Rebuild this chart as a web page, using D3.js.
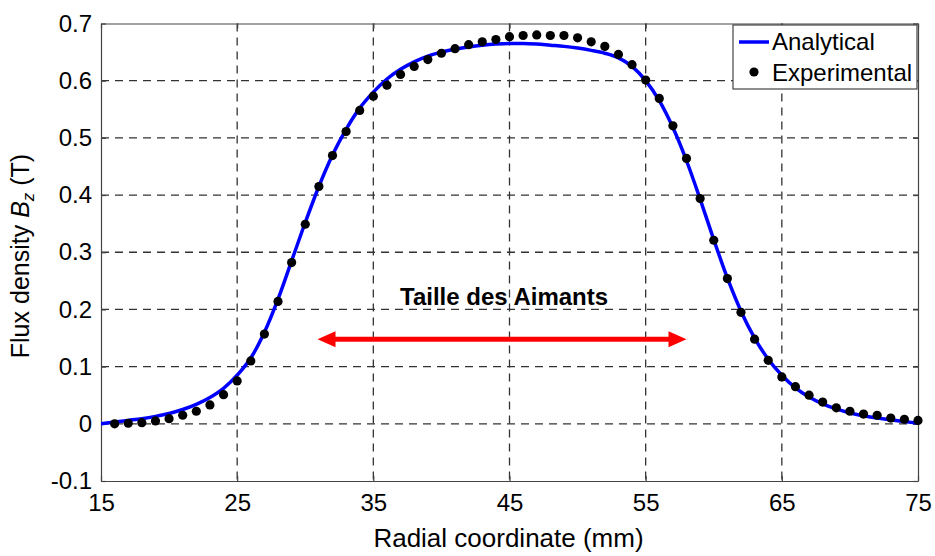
<!DOCTYPE html>
<html>
<head>
<meta charset="utf-8">
<script src="https://cdn.jsdelivr.net/npm/d3@7"></script>
<style>
  html, body { margin: 0; padding: 0; background: #fff; }
  svg { display: block; font-family: "Liberation Sans", Arial, sans-serif; }
</style>
</head>
<body>
<svg id="chart" width="935" height="556"></svg>
<script>
// Radial positions (mm) of the measured and computed flux density
const analyticalX = d3.range(15, 76, 1);
const analyticalBz = [
  0.000, 0.003, 0.006, 0.009, 0.013, 0.018, 0.025, 0.034, 0.046, 0.062,
  0.085, 0.115, 0.160, 0.218, 0.285, 0.352, 0.415, 0.470, 0.515, 0.552,
  0.580, 0.603, 0.620, 0.633, 0.643, 0.650, 0.655, 0.659, 0.662, 0.664,
  0.665, 0.665, 0.664, 0.662, 0.660, 0.657, 0.653, 0.648, 0.640, 0.625,
  0.600, 0.565, 0.518, 0.460, 0.393, 0.322, 0.255, 0.197, 0.150, 0.113,
  0.085, 0.063, 0.047, 0.035, 0.026, 0.019, 0.014, 0.010, 0.007, 0.004,
  0.001
];
const experimentalX = d3.range(16, 76, 1);
const experimentalBz = [
  0.000, 0.001, 0.002, 0.005, 0.009, 0.015, 0.022, 0.033, 0.051, 0.075,
  0.110, 0.157, 0.214, 0.282, 0.349, 0.415, 0.469, 0.511, 0.548, 0.573,
  0.592, 0.611, 0.625, 0.637, 0.648, 0.656, 0.663, 0.668, 0.672, 0.677,
  0.679, 0.680, 0.679, 0.679, 0.675, 0.668, 0.660, 0.646, 0.628, 0.601,
  0.569, 0.521, 0.464, 0.394, 0.321, 0.254, 0.195, 0.148, 0.111, 0.082,
  0.065, 0.050, 0.038, 0.028, 0.022, 0.017, 0.015, 0.010, 0.008, 0.006
];
const xTicks = [15, 25, 35, 45, 55, 65, 75];
const yTicks = [-0.1, 0, 0.1, 0.2, 0.3, 0.4, 0.5, 0.6, 0.7];
const legendLabels = ["Analytical", "Experimental"];
const magnetLabel = "Taille des Aimants";
// Extent of the magnets (mm) and height of the annotation arrow (T)
const magnetSpan = [30.9, 58.0];
const magnetArrowBz = 0.148;
const magnetLabelPos = [44.6, 0.207];

const svg = d3.select("#chart");
const plotL = 101, plotR = 918, plotT = 23.5, plotB = 481;

const x = d3.scaleLinear().domain([15, 75]).range([plotL, plotR]);
const y = d3.scaleLinear().domain([-0.1, 0.7]).range([plotB, plotT]);

svg.append("defs").append("clipPath").attr("id", "plot")
  .append("rect").attr("x", plotL).attr("y", plotT)
  .attr("width", plotR - plotL).attr("height", plotB - plotT);

// dashed grid
const grid = svg.append("g").attr("stroke", "#333").attr("stroke-width", 1.3)
  .attr("stroke-dasharray", "8,6");
grid.selectAll(".gx").data(xTicks.slice(1, -1)).join("line")
  .attr("x1", d => x(d)).attr("x2", d => x(d))
  .attr("y1", plotT).attr("y2", plotB);
grid.selectAll(".gy").data(yTicks.slice(1, -1)).join("line")
  .attr("y1", d => y(d)).attr("y2", d => y(d))
  .attr("x1", plotL).attr("x2", plotR);

// box axes with inward ticks
const fmt = d => String(+d.toFixed(1));
function styleAxis(g) {
  g.select(".domain").attr("stroke", "#444").attr("stroke-width", 1.2);
  g.selectAll(".tick line").attr("stroke", "#444").attr("stroke-width", 1.2);
  g.selectAll(".tick text").attr("fill", "#000").style("font-size", "24px");
}
svg.append("g").attr("transform", `translate(0,${plotB})`)
  .call(d3.axisBottom(x).tickValues(xTicks).tickSizeInner(-5).tickSizeOuter(0).tickPadding(13).tickFormat(fmt))
  .call(styleAxis);
svg.append("g").attr("transform", `translate(0,${plotT})`)
  .call(d3.axisTop(x).tickValues(xTicks).tickSizeInner(-5).tickSizeOuter(0).tickFormat(""))
  .call(styleAxis);
svg.append("g").attr("transform", `translate(${plotL},0)`)
  .call(d3.axisLeft(y).tickValues(yTicks).tickSizeInner(-5).tickSizeOuter(0).tickPadding(9).tickFormat(fmt))
  .call(styleAxis);
svg.append("g").attr("transform", `translate(${plotR},0)`)
  .call(d3.axisRight(y).tickValues(yTicks).tickSizeInner(-5).tickSizeOuter(0).tickFormat(""))
  .call(styleAxis);

// analytical curve
const line = d3.line().x((d, i) => x(analyticalX[i])).y(d => y(d)).curve(d3.curveMonotoneX);
svg.append("path").datum(analyticalBz).attr("clip-path", "url(#plot)")
  .attr("d", line).attr("fill", "none").attr("stroke", "#0000ff")
  .attr("stroke-width", 3.5).attr("stroke-linejoin", "round");

// experimental points
svg.append("g").selectAll("circle").data(experimentalBz).join("circle")
  .attr("cx", (d, i) => x(experimentalX[i])).attr("cy", d => y(d))
  .attr("r", 4.6).attr("fill", "#000");

// magnet size annotation: double-headed arrow
const ax0 = x(magnetSpan[0]), ax1 = x(magnetSpan[1]), ay = y(magnetArrowBz);
const headL = 18, headW = 8;
const arrow = svg.append("g").attr("fill", "#ff0000");
arrow.append("line").attr("x1", ax0 + headL - 2).attr("x2", ax1 - headL + 2)
  .attr("y1", ay).attr("y2", ay).attr("stroke", "#ff0000").attr("stroke-width", 5);
arrow.append("path").attr("d", `M${ax0},${ay} L${ax0 + headL},${ay - headW} L${ax0 + headL},${ay + headW} Z`);
arrow.append("path").attr("d", `M${ax1},${ay} L${ax1 - headL},${ay - headW} L${ax1 - headL},${ay + headW} Z`);
svg.append("text").attr("x", x(magnetLabelPos[0])).attr("y", y(magnetLabelPos[1]))
  .attr("text-anchor", "middle").style("font-size", "24px").style("font-weight", "bold")
  .text(magnetLabel);

// legend
const lg = svg.append("g");
lg.append("rect").attr("x", 733).attr("y", 25).attr("width", 184).attr("height", 64)
  .attr("fill", "#fff").attr("stroke", "#444").attr("stroke-width", 1.2);
lg.append("line").attr("x1", 739).attr("x2", 769).attr("y1", 42).attr("y2", 42)
  .attr("stroke", "#0000ff").attr("stroke-width", 3.5);
lg.append("circle").attr("cx", 754).attr("cy", 72).attr("r", 4.6).attr("fill", "#000");
lg.selectAll("text").data(legendLabels).join("text")
  .attr("x", 772).attr("y", (d, i) => 50 + i * 31)
  .style("font-size", "24px").attr("fill", "#000").text(d => d);

// axis titles
svg.append("text").attr("x", 508.5).attr("y", 547).attr("text-anchor", "middle")
  .style("font-size", "26px").attr("fill", "#000").text("Radial coordinate (mm)");
const yl = svg.append("text").attr("transform", "translate(29,256) rotate(-90)")
  .attr("text-anchor", "middle").style("font-size", "25px").attr("fill", "#000");
yl.append("tspan").text("Flux density ");
yl.append("tspan").style("font-style", "italic").text("B");
yl.append("tspan").style("font-style", "italic").style("font-size", "17px").attr("dy", 5).text("z");
yl.append("tspan").attr("dy", -5).text(" (T)");
</script>
</body>
</html>
